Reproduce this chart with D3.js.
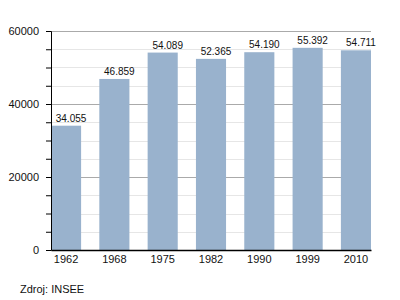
<!DOCTYPE html>
<html>
<head>
<meta charset="utf-8">
<script src="https://cdn.jsdelivr.net/npm/d3@7"></script>
<style>
  body { margin: 0; background: #fff; }
  text { font-family: "Liberation Sans", Arial, sans-serif; }
</style>
</head>
<body>
<div id="chart"></div>
<script>
var years = ["1962", "1968", "1975", "1982", "1990", "1999", "2010"];
var population = [34055, 46859, 54089, 52365, 54190, 55392, 54711];
var valueLabels = ["34.055", "46.859", "54.089", "52.365", "54.190", "55.392", "54.711"];
var yTicks = [0, 20000, 40000, 60000];

var margin = { top: 31, right: 29, bottom: 50, left: 51 };
var width = 400 - margin.left - margin.right;
var height = 300 - margin.top - margin.bottom;

var svg = d3.select("#chart")
  .append("svg")
    .attr("width", 400)
    .attr("height", 300);
var g = svg.append("g")
    .attr("transform", "translate(" + margin.left + "," + margin.top + ")");

var x = d3.scaleBand()
  .domain(years)
  .range([0, width])
  .paddingInner(0.377)
  .paddingOuter(0);
var y = d3.scaleLinear()
  .domain([0, 60000])
  .range([height, 0]);

// minor gridlines every 5000
g.selectAll(".minor")
  .data(d3.range(5000, 60000, 5000).filter(function(d) { return d % 20000 != 0; }))
  .enter().append("line")
    .attr("x1", 0).attr("x2", width)
    .attr("y1", function(d) { return Math.round(y(d)) + 0.5; })
    .attr("y2", function(d) { return Math.round(y(d)) + 0.5; })
    .attr("stroke", "#e6e6e6");

// major gridlines
g.selectAll(".major")
  .data(yTicks.slice(1))
  .enter().append("line")
    .attr("x1", 0).attr("x2", width)
    .attr("y1", function(d) { return Math.round(y(d)) + 0.5; })
    .attr("y2", function(d) { return Math.round(y(d)) + 0.5; })
    .attr("stroke", "#aaaaaa");

var data = years.map(function(d, i) { return { year: d, value: population[i], label: valueLabels[i] }; });

g.selectAll(".bar")
  .data(data)
  .enter().append("rect")
    .attr("class", "bar")
    .attr("x", function(d) { return x(d.year); })
    .attr("width", x.bandwidth())
    .attr("y", function(d) { return y(d.value); })
    .attr("height", function(d) { return height - y(d.value); })
    .attr("fill", "#99b2cd");

// value labels sit a little right of the bar centre, like the original
g.selectAll(".val")
  .data(data)
  .enter().append("text")
    .attr("x", function(d) { return x(d.year) + x.bandwidth() / 2 + 5; })
    .attr("y", function(d) { return y(d.value) - 4; })
    .attr("text-anchor", "middle")
    .attr("font-size", "10px")
    .attr("fill", "#111")
    .text(function(d) { return d.label; });

// y axis: ticks every 5000, labels every 20000
var yAxis = g.append("g")
  .call(d3.axisLeft(y).tickValues(d3.range(0, 60001, 5000)).tickSize(5)
    .tickFormat(function(d) { return d % 20000 == 0 ? d : ""; }));
yAxis.select(".domain").attr("stroke", "#000");
yAxis.selectAll("text").attr("font-size", "11px").attr("fill", "#111").attr("x", -12);

var xAxis = g.append("g")
  .attr("transform", "translate(0," + height + ")")
  .call(d3.axisBottom(x).tickSize(0).tickPadding(5));
xAxis.select(".domain").attr("stroke", "#000").attr("stroke-width", 1.5);
xAxis.selectAll("text").attr("font-size", "11px").attr("fill", "#111");

svg.append("text")
  .attr("x", 20)
  .attr("y", 293)
  .attr("font-size", "11px")
  .attr("fill", "#111")
  .text("Zdroj: INSEE");
</script>
</body>
</html>
